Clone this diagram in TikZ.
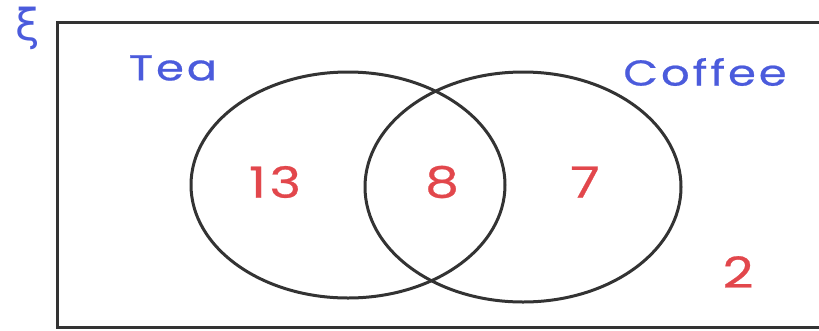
\documentclass[tikz,border=0pt]{standalone}
\usepackage{fontspec}
\setmainfont{Poppins}
\newfontfamily\widefont{Poppins}[FakeStretch=1.25, LetterSpace=8, FakeBold=0.6]
\newfontfamily\greekfont{DejaVu Sans}
\usetikzlibrary{positioning}
\definecolor{setblue}{HTML}{4B5BDC}
\definecolor{countred}{HTML}{E2474C}
\definecolor{ink}{HTML}{333333}

\begin{document}
\begin{tikzpicture}[
  x=1pt, y=-1pt,
  setline/.style={draw=ink, line width=3pt},
  setlabel/.style={text=setblue, font=\widefont\fontsize{36}{40}\selectfont, inner sep=0pt},
  count/.style={text=countred, font=\widefont\fontsize{43}{47}\selectfont, inner sep=0pt}
]
\useasboundingbox (0,0) rectangle (819,330);
% Universal set frame, right edge runs off the picture
\draw[setline] (830,22) -- (57,22) -- (57,327) -- (830,327);
\node[setlabel, font=\greekfont\fontsize{44}{48}\selectfont] (xi) at (28,28) {ξ};
% The two sets
\draw[setline] (348,185) ellipse [x radius=157, y radius=113];
\draw[setline] (523,187) ellipse [x radius=158, y radius=115];
\node[setlabel] (tea) at (173,68) {Tea};
\node[setlabel] (coffee) at (705,72) {Coffee};
% Counts in each region
\node[count] (teaonly) at (275,182) {13};
\node[count] (both) at (442,182) {8};
\node[count] (coffeeonly) at (585,182) {7};
\node[count] (neither) at (738,272) {2};
\end{tikzpicture}
\end{document}
